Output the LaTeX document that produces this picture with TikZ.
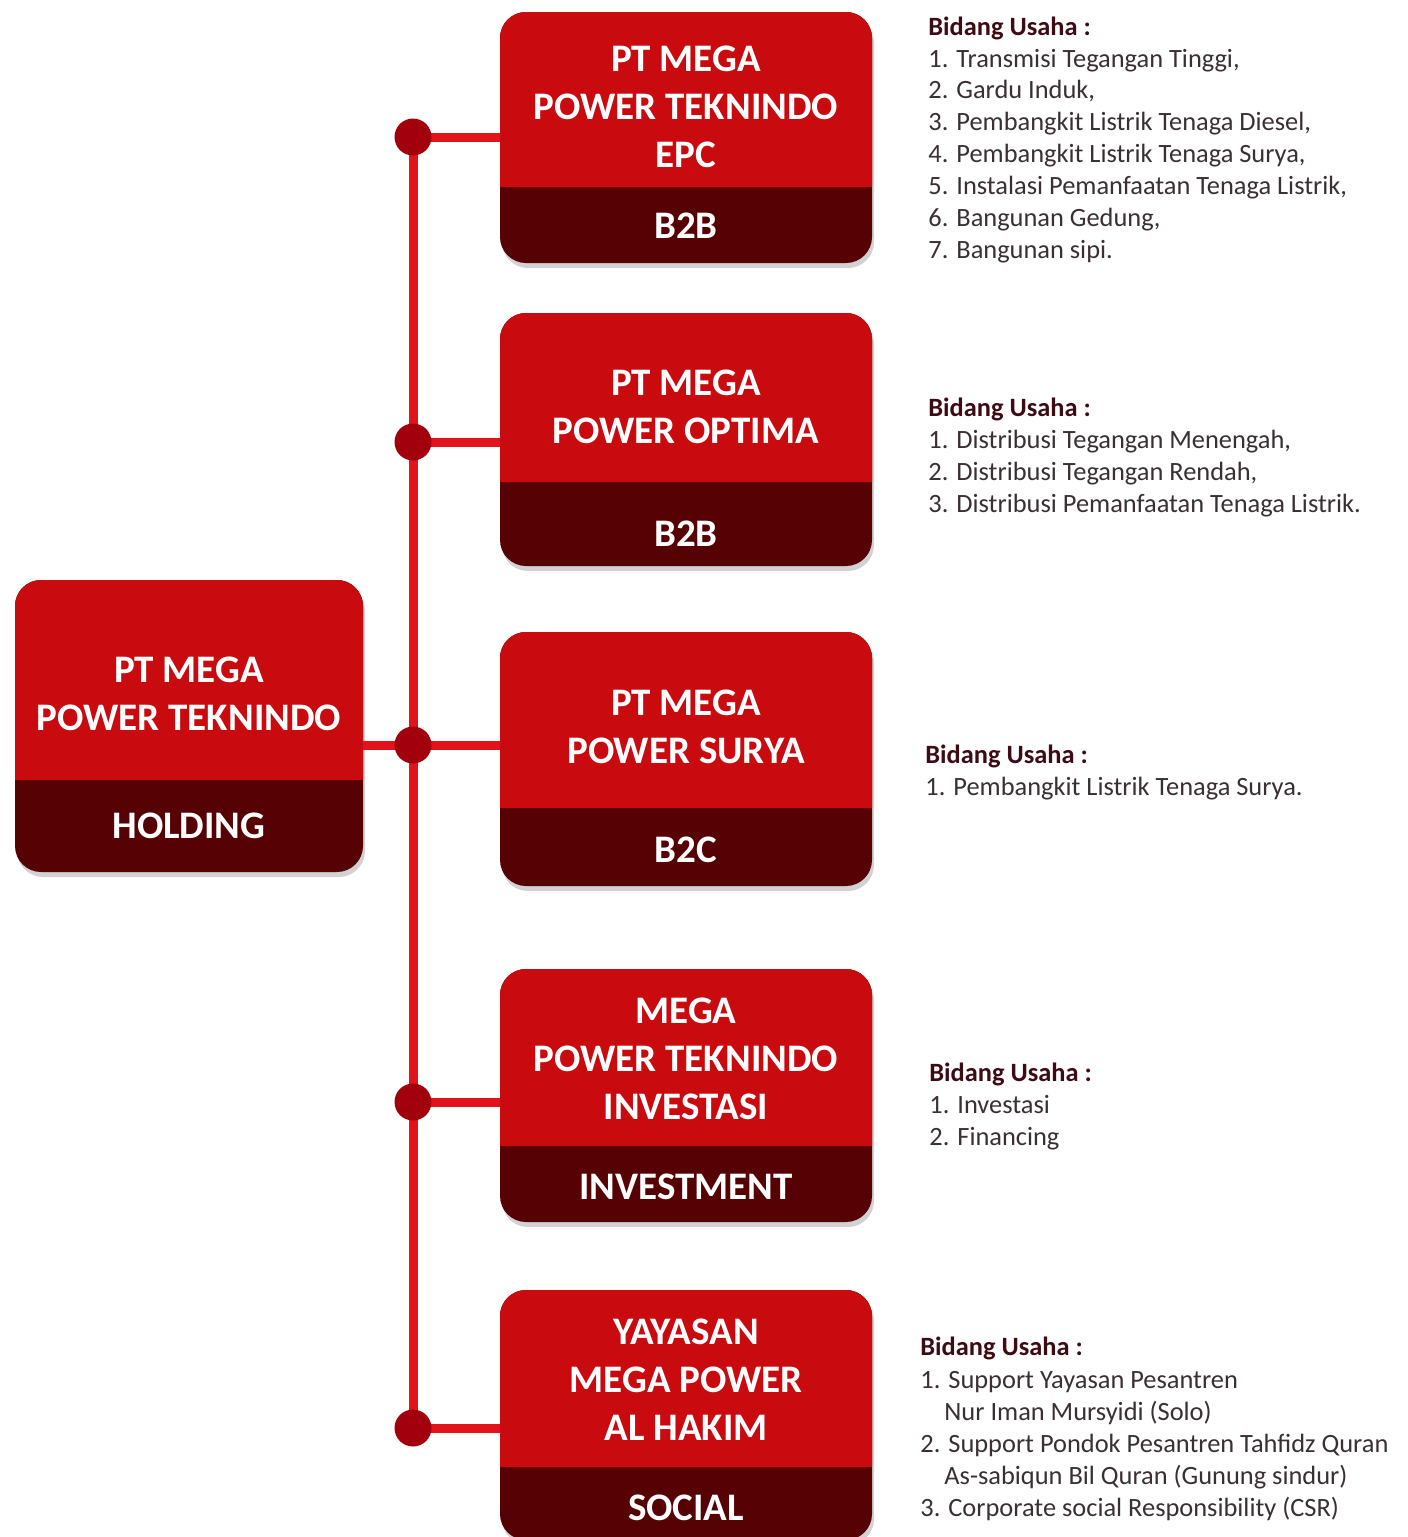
\documentclass[tikz,border=0pt]{standalone}
\usepackage{fontspec}
\setmainfont{Carlito}
\usetikzlibrary{fit,shadows}
\definecolor{boxred}{HTML}{C90A0E}
\definecolor{boxdark}{HTML}{560204}
\definecolor{linered}{HTML}{E3131B}
\definecolor{dotred}{HTML}{A3000E}
\definecolor{headcol}{HTML}{3E0B14}
\definecolor{itemcol}{HTML}{3A3034}
\tikzset{
  boxbg/.style={fill=boxdark, rounded corners=13pt, inner sep=0pt,
    drop shadow={opacity=0.35, shadow xshift=1pt, shadow yshift=-2.5pt}},
  titletext/.style={text=white, font=\fontsize{19.5}{24}\selectfont\bfseries, align=center, inner sep=0pt},
  subtext/.style={text=white, font=\fontsize{19.5}{24}\selectfont\bfseries, inner sep=0pt},
  wire/.style={draw=linered, line width=4.5pt},
  jdot/.style={circle, fill=dotred, minimum size=18.5pt, inner sep=0pt},
  headtext/.style={text=headcol, font=\fontsize{13.2}{16}\selectfont\bfseries, anchor=mid west, inner sep=0pt},
  itemtext/.style={text=itemcol, font=\fontsize{13.2}{16}\selectfont, anchor=mid west, inner sep=0pt}
}
% #1 name, #2 x1, #3 y1, #4 x2, #5 y2, #6 ydiv
\newcommand\mpbox[6]{%
  \path (#2,#3) coordinate (#1-nw) (#4,#5) coordinate (#1-se);
  \node[boxbg, fit=(#1-nw)(#1-se)] (#1) {};
  \fill[boxred] (#2,#6) [rounded corners=13pt] -- (#2,#3) -- (#4,#3) [sharp corners] -- (#4,#6) -- cycle;
}
\begin{document}
\begin{tikzpicture}[x=0.5pt,y=-0.5pt]
\useasboundingbox[fill=white] (0,0) rectangle (1408,1537);

% junction points
\path (413,137) coordinate (c1) (413,442) coordinate (c2) (413,745) coordinate (c3)
      (413,1102) coordinate (c4) (413,1428) coordinate (c5);

% boxes
\mpbox{hold}{15}{580}{363}{872}{780}
\mpbox{b1}{500}{12}{872}{263}{187}
\mpbox{b2}{500}{313}{872}{566}{482}
\mpbox{b3}{500}{632}{872}{886}{808}
\mpbox{b4}{500}{969}{872}{1222}{1146}
\mpbox{b5}{500}{1290}{872}{1540}{1467}

% wires
\draw[wire] (c1) -- (c5);
\draw[wire] (c3 -| hold.east) -- (c3);
\draw[wire] (c1) -- (c1 -| b1.west);
\draw[wire] (c2) -- (c2 -| b2.west);
\draw[wire] (c3) -- (c3 -| b3.west);
\draw[wire] (c4) -- (c4 -| b4.west);
\draw[wire] (c5) -- (c5 -| b5.west);

\node[jdot] (d1) at (c1) {};
\node[jdot] (d2) at (c2) {};
\node[jdot] (d3) at (c3) {};
\node[jdot] (d4) at (c4) {};
\node[jdot] (d5) at (c5) {};

% box texts
\node[titletext] (holdt) at (189,694) {PT MEGA\\POWER TEKNINDO};
\node[subtext] (holds) at (189,826) {HOLDING};
\node[titletext] (b1t) at (686,107) {PT MEGA\\POWER TEKNINDO\\EPC};
\node[subtext] (b1s) at (686,226) {B2B};
\node[titletext] (b2t) at (686,407) {PT MEGA\\POWER OPTIMA};
\node[subtext] (b2s) at (686,534) {B2B};
\node[titletext] (b3t) at (686,727) {PT MEGA\\POWER SURYA};
\node[subtext] (b3s) at (686,850) {B2C};
\node[titletext] (b4t) at (686,1059) {MEGA\\POWER TEKNINDO\\INVESTASI};
\node[subtext] (b4s) at (686,1187) {INVESTMENT};
\node[titletext] (b5t) at (686,1380) {YAYASAN\\MEGA POWER\\AL HAKIM};
\node[subtext] (b5s) at (686,1508) {SOCIAL};

% business lists
\node[headtext] (h1) at (928,31) {Bidang Usaha :};
\node[itemtext] (i11) at (928,63) {1. Transmisi Tegangan Tinggi,};
\node[itemtext] (i12) at (928,94) {2. Gardu Induk,};
\node[itemtext] (i13) at (928,126) {3. Pembangkit Listrik Tenaga Diesel,};
\node[itemtext] (i14) at (928,158) {4. Pembangkit Listrik Tenaga Surya,};
\node[itemtext] (i15) at (928,190) {5. Instalasi Pemanfaatan Tenaga Listrik,};
\node[itemtext] (i16) at (928,222) {6. Bangunan Gedung,};
\node[itemtext] (i17) at (928,254) {7. Bangunan sipi.};

\node[headtext] (h2) at (928,412) {Bidang Usaha :};
\node[itemtext] (i21) at (928,444) {1. Distribusi Tegangan Menengah,};
\node[itemtext] (i22) at (928,476) {2. Distribusi Tegangan Rendah,};
\node[itemtext] (i23) at (928,508) {3. Distribusi Pemanfaatan Tenaga Listrik.};

\node[headtext] (h3) at (925,759) {Bidang Usaha :};
\node[itemtext] (i31) at (925,791) {1. Pembangkit Listrik Tenaga Surya.};

\node[headtext] (h4) at (929,1077) {Bidang Usaha :};
\node[itemtext] (i41) at (929,1109) {1. Investasi};
\node[itemtext] (i42) at (929,1141) {2. Financing};

\node[headtext] (h5) at (920,1351) {Bidang Usaha :};
\node[itemtext] (i51) at (920,1384) {1. Support Yayasan Pesantren};
\node[itemtext] (i51b) at (944,1416) {Nur Iman Mursyidi (Solo)};
\node[itemtext] (i52) at (920,1448) {2. Support Pondok Pesantren Tahfidz Quran};
\node[itemtext] (i52b) at (944,1480) {As-sabiqun Bil Quran (Gunung sindur)};
\node[itemtext] (i53) at (920,1512) {3. Corporate social Responsibility (CSR)};
\end{tikzpicture}
\end{document}
